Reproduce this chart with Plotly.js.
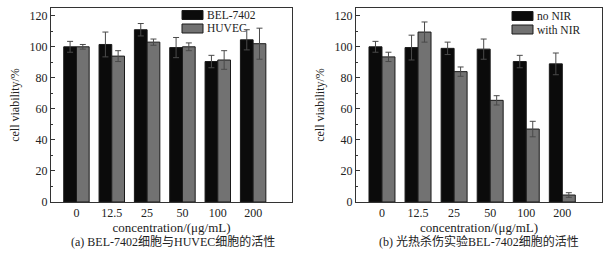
<!DOCTYPE html>
<html>
<head>
<meta charset="utf-8">
<script src="https://cdn.plot.ly/plotly-3.0.1.min.js"></script>
<style>html,body{margin:0;padding:0;background:#fff}#chart{width:604px;height:254px}</style>
</head>
<body>
<div id="chart"></div>
<script>
// Categories (concentration, μg/mL)
const concentrations = ["0", "12.5", "25", "50", "100", "200"];

// Panel (a): cell viability (%) of BEL-7402 and HUVEC
const bel7402 = [100, 101.5, 111, 99.5, 90.5, 104.5];
const bel7402Err = [3.5, 8, 4, 6.5, 4, 6.5];
const huvec = [100, 94, 103, 100, 91.5, 102];
const huvecErr = [1.5, 3.5, 2, 2.5, 6, 10];

// Panel (b): photothermal killing of BEL-7402
const noNIR = [100, 99.5, 99, 98.5, 90.5, 89];
const noNIRErr = [3.5, 8, 4, 6.5, 4, 7];
const withNIR = [93.5, 109.5, 84, 65.5, 47, 4.5];
const withNIRErr = [3, 6.5, 3, 3, 5, 1.5];

const seriesNames = ["BEL-7402", "HUVEC", "no NIR", "with NIR"];
const yTickVals = [0, 20, 40, 60, 80, 100, 120];
const captionA = "(a) BEL-7402细胞与HUVEC细胞的活性";
const captionB = "(b) 光热杀伤实验BEL-7402细胞的活性";
const xTitle = "concentration/(μg/mL)";
const yTitle = "cell viability/%";

const FONT = "Liberation Serif, 'Times New Roman', 'Noto Sans CJK SC', serif";
const BLACK = "#0b0b0b", GRAY = "#727272", EDGE = "#1a1a1a";
const colors = [BLACK, GRAY, BLACK, GRAY];

function barTrace(y, err, name, color, xa, ya) {
  return {
    type: "bar", x: concentrations, y: y, name: name,
    xaxis: xa, yaxis: ya, showlegend: false,
    marker: {color: color, line: {color: EDGE, width: 1}},
    error_y: {type: "data", array: err, visible: true, color: "#4a4a4a", thickness: 1, width: 3}
  };
}

const data = [
  barTrace(bel7402, bel7402Err, seriesNames[0], colors[0], "x", "y"),
  barTrace(huvec, huvecErr, seriesNames[1], colors[1], "x", "y"),
  barTrace(noNIR, noNIRErr, seriesNames[2], colors[2], "x2", "y2"),
  barTrace(withNIR, withNIRErr, seriesNames[3], colors[3], "x2", "y2")
];

const W = 604, TOP = 8, BOT = 202;
const px = v => v / W;
const py = v => (BOT - v) / (BOT - TOP);

function xAxis(d0, d1) {
  return {
    domain: [px(d0), px(d1)], type: "category", range: [-0.72, 6.1],
    showline: true, linecolor: "#333", linewidth: 1, mirror: true,
    ticks: "", showgrid: false, zeroline: false,
    tickfont: {family: FONT, size: 12, color: "#222"},
    title: {text: xTitle, font: {family: FONT, size: 13, color: "#222"}, standoff: 1}
  };
}
function yAxis(anchor) {
  return {
    anchor: anchor, range: [0, 125], tickvals: yTickVals,
    showline: true, linecolor: "#333", linewidth: 1, mirror: true,
    ticks: "inside", ticklen: 4, tickcolor: "#333",
    minor: {dtick: 10, tick0: 0, ticks: "inside", ticklen: 2, tickcolor: "#333", showgrid: false},
    showgrid: false, zeroline: false,
    tickfont: {family: FONT, size: 12, color: "#222"},
    title: {text: yTitle, font: {family: FONT, size: 12, color: "#222"}, standoff: 7}
  };
}

// Custom legend (box + label) positioned in pixels
const legendSpec = [
  {i: 0, x: 182, y0: 10.5, y1: 19.5},
  {i: 1, x: 182, y0: 24, y1: 33},
  {i: 2, x: 512, y0: 11.5, y1: 20.5},
  {i: 3, x: 512, y0: 25, y1: 34}
];
const shapes = legendSpec.map(s => ({
  type: "rect", xref: "paper", yref: "paper",
  x0: px(s.x), x1: px(s.x + 21), y0: py(s.y1), y1: py(s.y0),
  fillcolor: colors[s.i], line: {color: EDGE, width: 1}
}));
const legendLabels = legendSpec.map(s => ({
  text: seriesNames[s.i], xref: "paper", yref: "paper",
  x: px(s.x + 24), y: py((s.y0 + s.y1) / 2), xanchor: "left", yanchor: "middle",
  showarrow: false, borderpad: 0, font: {family: FONT, size: 11.5, color: "#222"}
}));

const layout = {
  width: 604, height: 254,
  margin: {l: 0, r: 0, t: TOP, b: 254 - BOT},
  paper_bgcolor: "#fff", plot_bgcolor: "#fff",
  barmode: "group", bargap: 0.28, bargroupgap: 0,
  font: {family: FONT, size: 12, color: "#222"},
  showlegend: false,
  xaxis: xAxis(51, 292),
  yaxis: yAxis("x"),
  xaxis2: xAxis(356, 602),
  yaxis2: yAxis("x2"),
  shapes: shapes,
  annotations: legendLabels.concat([
    {text: captionA, xref: "paper", yref: "paper", x: px(173), y: py(241), xanchor: "center", yanchor: "middle",
     showarrow: false, font: {family: FONT, size: 12, color: "#222"}},
    {text: captionB, xref: "paper", yref: "paper", x: px(479), y: py(241), xanchor: "center", yanchor: "middle",
     showarrow: false, font: {family: FONT, size: 12, color: "#222"}}
  ])
};

Plotly.newPlot("chart", data, layout, {staticPlot: true, displayModeBar: false});
</script>
</body>
</html>
